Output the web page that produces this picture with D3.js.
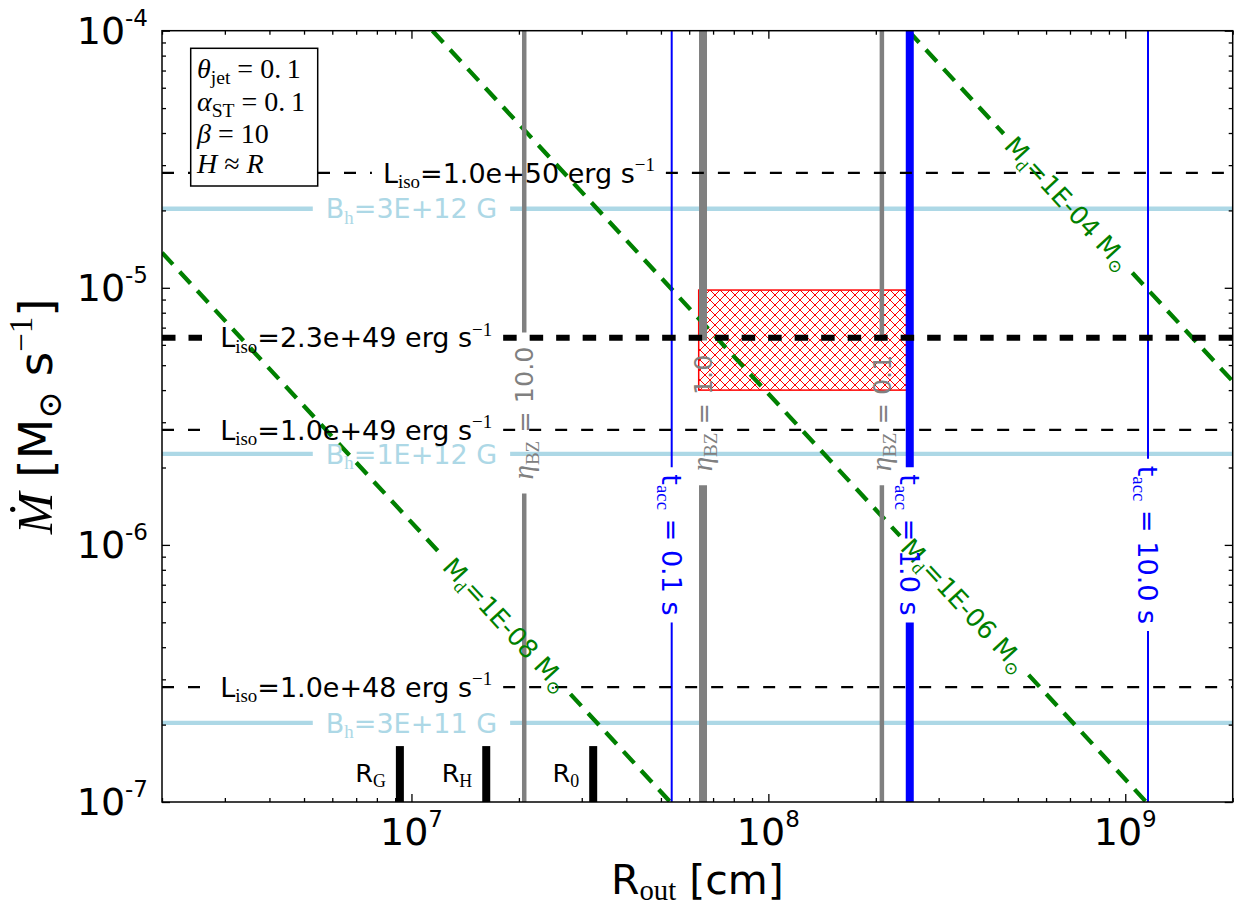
<!DOCTYPE html>
<html><head><meta charset="utf-8">
<script src="https://cdn.jsdelivr.net/npm/d3@7"></script>
<style>body{margin:0;background:#fff}</style>
</head><body>
<svg id="chart" width="1242" height="905"></svg>
<script>
// ---------------- data ----------------
const xDomain = [2e6, 2e9];
const yDomain = [1e-7, 1e-4];
const xTickExps = [7, 8, 9];
const yTickExps = [-7, -6, -5, -4];

// isotropic luminosity lines
const lisoLabels = ["1.0e+48", "1.0e+49", "2.3e+49", "1.0e+50"];
const lisoMdot = [2.8e-7, 2.8e-6, 6.4e-6, 2.8e-5];

// magnetic field lines
const bLabels = ["3E+11", "1E+12", "3E+12"];
const bMdot = [2.03e-7, 2.26e-6, 2.03e-5];

// disk mass lines (endpoints)
const mdLabels = ["1E-08", "1E-06", "1E-04"];
const mdStartR = [2e6, 1.145e7, 2.466e8];
const mdStartMdot = [1.37e-5, 1e-4, 1e-4];
const mdEndR = [5.31e7, 1.145e9, 2e9];
const mdEndMdot = [1e-7, 1e-7, 4.33e-6];

// eta_BZ lines
const etaLabels = ["10.0", "1.0", "0.1"];
const etaR = [2.07e7, 6.56e7, 2.08e8];

// accretion time lines
const taccLabels = ["0.1", "1.0", "10.0"];
const taccR = [5.36e7, 2.49e8, 1.158e9];

// characteristic radii
const radiusNames = ["G", "H", "0"];
const radiusR = [9.28e6, 1.62e7, 3.23e7];
const radiusTopMdot = 1.65e-7;

// allowed region
const regionR = [6.38e7, 2.44e8];
const regionMdot = [4.0e-6, 9.8e-6];

// ---------------- layout ----------------
const layout = {
  lisoLabelR: [7e6, 7e6, 7e6, 2e7],
  bLabelR: 1e7,
  mdLabelR: [1.842e7, 3.54e8, 6.91e8],
  etaLabelMdot: 3.26e-6,
  taccLabelMdot: 1e-6
};

const SANS = "DejaVu Sans", SERIF = "Liberation Serif, DejaVu Serif";
const L = 162, R = 1232.7, T = 30.7, B = 802;
const x = d3.scaleLog().domain(xDomain).range([L, R]);
const y = d3.scaleLog().domain(yDomain).range([B, T]);
const svg = d3.select("#chart");
const defs = svg.append("defs");
defs.append("clipPath").attr("id", "clip").append("rect")
  .attr("x", L).attr("y", T).attr("width", R - L).attr("height", B - T);
const HP = 10;
const pat = defs.append("pattern").attr("id", "hatch").attr("patternUnits", "userSpaceOnUse")
  .attr("width", HP).attr("height", HP);
pat.append("path").attr("d", `M-1,-1L${HP + 1},${HP + 1}M${HP + 1},-1L-1,${HP + 1}`)
  .attr("stroke", "red").attr("stroke-width", 1).attr("fill", "none");

const plot = svg.append("g").attr("clip-path", "url(#clip)");
const layerB = plot.append("g");
const layerRect = plot.append("g");
const layerGreen = plot.append("g");
const layerGray = plot.append("g");
const layerBlue = plot.append("g");
const layerBlack = plot.append("g");
const layerBars = plot.append("g");
const layerText = svg.append("g");

function richText(parent, segs, size, opts = {}) {
  const t = parent.append("text")
    .attr("x", opts.x || 0).attr("y", opts.y || 0)
    .attr("text-anchor", opts.anchor || "middle")
    .attr("font-family", SANS).attr("font-size", size)
    .attr("fill", opts.fill || "#000")
    .style("white-space", "pre");
  let cur = 0;
  segs.forEach(s => {
    let shift = 0, fs = size;
    if (s.sub) { shift = (opts.subShift || 0.2) * size; fs = 0.7 * size; }
    if (s.sup) { shift = -0.42 * size; fs = 0.7 * size; }
    if (s.fs) fs = s.fs;
    if (s.shift !== undefined) shift = s.shift;
    const ts = t.append("tspan").attr("dy", shift - cur).attr("font-size", fs).text(s.t);
    if (s.serif) ts.attr("font-family", SERIF);
    if (s.it) ts.attr("font-style", "italic");
    cur = shift;
  });
  return t;
}

function lineLabel(segs, cx, cy, angle, size, fill) {
  const g = layerText.append("g").attr("transform", `translate(${cx},${cy}) rotate(${angle})`);
  const t = richText(g, segs, size, { y: 0.36 * size, fill: fill });
  return t.node().getComputedTextLength() / 2;
}

function gapLine(layer, p0, p1, c, half, style) {
  const dx = p1[0] - p0[0], dy = p1[1] - p0[1];
  const len = Math.hypot(dx, dy), ux = dx / len, uy = dy / len;
  const segs = c ? [[p0, [c[0] - ux * half, c[1] - uy * half]], [[c[0] + ux * half, c[1] + uy * half], p1]] : [[p0, p1]];
  segs.forEach(s => {
    const ln = layer.append("line")
      .attr("x1", s[0][0]).attr("y1", s[0][1]).attr("x2", s[1][0]).attr("y2", s[1][1])
      .attr("stroke", style.color).attr("stroke-width", style.width);
    if (style.dash) ln.attr("stroke-dasharray", style.dash);
  });
}

// ---- B_h lines ----
bLabels.forEach((lab, i) => {
  const yy = y(bMdot[i]), cx = x(layout.bLabelR);
  const half = lineLabel([{ t: "B" }, { t: "h", sub: 1, serif: 1 }, { t: "=" + lab + " G" }], cx, yy, 0, 27, "#add8e6");
  gapLine(layerB, [L, yy], [R, yy], [cx, yy], half + 13, { color: "#add8e6", width: 4.3 });
});

// ---- allowed region ----
layerRect.append("rect")
  .attr("x", x(regionR[0])).attr("y", y(regionMdot[1]))
  .attr("width", x(regionR[1]) - x(regionR[0]))
  .attr("height", y(regionMdot[0]) - y(regionMdot[1]))
  .attr("fill", "url(#hatch)").attr("stroke", "red").attr("stroke-width", 1.5);

// ---- disk mass lines ----
mdLabels.forEach((lab, i) => {
  const p0 = [x(mdStartR[i]), y(mdStartMdot[i])], p1 = [x(mdEndR[i]), y(mdEndMdot[i])];
  const px = x(layout.mdLabelR[i]);
  const tt = (px - p0[0]) / (p1[0] - p0[0]);
  const c = [px, p0[1] + tt * (p1[1] - p0[1])];
  const ang = Math.atan2(p1[1] - p0[1], p1[0] - p0[0]) * 180 / Math.PI;
  const half = lineLabel([{ t: "M" }, { t: "d", sub: 1, serif: 1 }, { t: "=" + lab + " M" }, { t: "\u2299", sub: 1, serif: 1 }], c[0], c[1], ang, 25.5, "#008000");
  gapLine(layerGreen, p0, p1, c, half + 9, { color: "#008000", width: 4.3, dash: "16,10" });
});

// ---- eta_BZ lines ----
etaLabels.forEach((lab, i) => {
  const xx = x(etaR[i]), cy = y(layout.etaLabelMdot);
  const half = lineLabel([{ t: "\u03b7", it: 1, serif: 1, fs: 29 }, { t: "BZ", sub: 1, serif: 1, fs: 19 }, { t: " = " + lab }], xx, cy, -90, 25.5, "#808080");
  gapLine(layerGray, [xx, B], [xx, T], [xx, cy], half + 14, { color: "#808080", width: lab === "1.0" ? 8 : 4.5 });
});

// ---- accretion time lines ----
taccLabels.forEach((lab, i) => {
  const xx = x(taccR[i]), cy = y(layout.taccLabelMdot);
  const half = lineLabel([{ t: "t" }, { t: "acc", sub: 1, serif: 1 }, { t: " = " + lab + " s" }], xx, cy, 90, 27, "#0000ff");
  gapLine(layerBlue, [xx, T], [xx, B], [xx, cy], half + 7, { color: "#0000ff", width: lab === "1.0" ? 8 : 2 });
});

// ---- L_iso lines ----
lisoLabels.forEach((lab, i) => {
  const yy = y(lisoMdot[i]), cx = x(layout.lisoLabelR[i]);
  const half = lineLabel([{ t: "L" }, { t: "iso", sub: 1, serif: 1 }, { t: "=" + lab + " erg s" }, { t: "\u22121", sup: 1, serif: 1 }], cx, yy, 0, 27, "#000");
  const thick = lab === "2.3e+49";
  gapLine(layerBlack, [L, yy], [R, yy], [cx, yy], half + 11,
    thick ? { color: "#000", width: 6, dash: "13.5,13" } : { color: "#000", width: 2.2, dash: "12,14" });
});

// ---- characteristic radii ----
radiusNames.forEach((nm, i) => {
  const xx = x(radiusR[i]);
  layerBars.append("line").attr("x1", xx).attr("x2", xx).attr("y1", y(yDomain[0])).attr("y2", y(radiusTopMdot))
    .attr("stroke", "#000").attr("stroke-width", 8);
  richText(layerText, [{ t: "R" }, { t: nm, sub: 1, serif: 1 }], 25.5, { x: xx - 14, y: B - 20, anchor: "end" });
});

// ---------------- axes ----------------
function tickVals(domain, major) {
  const v = [];
  const e0 = Math.floor(Math.log10(domain[0])), e1 = Math.ceil(Math.log10(domain[1]));
  for (let e = e0; e <= e1; e++) for (let m = 1; m <= 9; m++) {
    const val = m * Math.pow(10, e);
    if (val >= domain[0] * 0.9999 && val <= domain[1] * 1.0001 && ((m === 1) === major)) v.push(val);
  }
  return v;
}
const axG = svg.append("g");
function addAxis(gen, tr, vals, size) {
  const g = axG.append("g").attr("transform", tr).call(gen.tickValues(vals).tickSize(size).tickFormat(""));
  g.select(".domain").remove();
  g.selectAll(".tick line").attr("stroke", "#000").attr("stroke-width", 1.3);
}
[[true, -8], [false, -4]].forEach(([maj, sz]) => {
  addAxis(d3.axisBottom(x), `translate(0,${B})`, tickVals(xDomain, maj), sz);
  addAxis(d3.axisTop(x), `translate(0,${T})`, tickVals(xDomain, maj), sz);
  addAxis(d3.axisLeft(y), `translate(${L},0)`, tickVals(yDomain, maj), sz);
  addAxis(d3.axisRight(y), `translate(${R},0)`, tickVals(yDomain, maj), sz);
});
axG.append("rect").attr("x", L).attr("y", T).attr("width", R - L).attr("height", B - T)
  .attr("fill", "none").attr("stroke", "#000").attr("stroke-width", 1.5);

const TFS = 38;
xTickExps.forEach(e => {
  richText(axG, [{ t: "10" }, { t: String(e), fs: 23, shift: -18 }], TFS, { x: x(Math.pow(10, e)), y: 845 });
});
yTickExps.forEach(e => {
  richText(axG, [{ t: "10" }, { t: String(e), fs: 23, shift: -18 }], TFS, { x: 148, y: y(Math.pow(10, e)) + 13, anchor: "end" });
});

// axis titles
richText(axG, [{ t: "R" }, { t: "out", sub: 1, serif: 1 }, { t: " [cm]" }], 41, { x: (L + R) / 2, y: 894, subShift: 0.14 });
const yl = axG.append("g").attr("transform", `translate(52,${(T + B) / 2}) rotate(-90)`);
richText(yl, [{ t: "\u1e40", serif: 1, it: 1, fs: 50 }, { t: " [M" }, { t: "\u2299", sub: 1, serif: 1 }, { t: " s" }, { t: "\u22121", sup: 1, serif: 1 }, { t: "]" }], 47);

// ---------------- parameter box ----------------
const box = svg.append("g");
box.append("rect").attr("x", 190.7).attr("y", 48.3).attr("width", 127).attr("height", 137.7)
  .attr("fill", "#fff").attr("stroke", "#000").attr("stroke-width", 1.5);
const BFS = 28;
const boxLines = [
  [{ t: "\u03b8", it: 1, serif: 1 }, { t: "jet", sub: 1, serif: 1 }, { t: " = 0.\u20091", serif: 1 }],
  [{ t: "\u03b1", it: 1, serif: 1 }, { t: "ST", sub: 1, serif: 1 }, { t: " = 0.\u20091", serif: 1 }],
  [{ t: "\u03b2", it: 1, serif: 1 }, { t: " = 10", serif: 1 }],
  [{ t: "H", it: 1, serif: 1 }, { t: " \u2248 ", serif: 1 }, { t: "R", it: 1, serif: 1 }]
];
const boxBase = [78, 111, 143, 173];
boxLines.forEach((segs, i) => richText(box, segs, BFS, { x: 197, y: boxBase[i], anchor: "start" }));
</script>
</body></html>
